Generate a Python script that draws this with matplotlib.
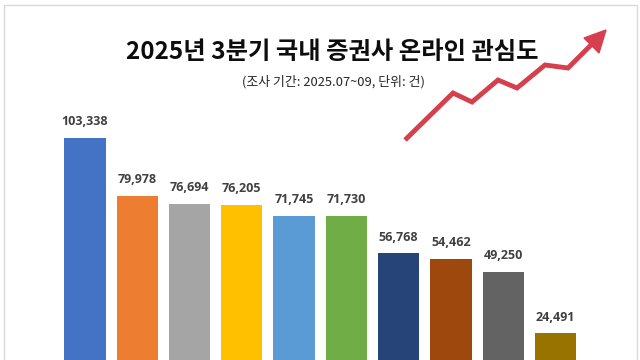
import matplotlib
matplotlib.use("Agg")
import matplotlib.pyplot as plt
from matplotlib.patches import Rectangle, Polygon
from matplotlib.lines import Line2D

plt.rcParams['font.family'] = ['Noto Sans CJK KR', 'DejaVu Sans']

categories = ["1위", "2위", "3위", "4위", "5위", "6위", "7위", "8위", "9위", "10위"]
values = [103338, 79978, 76694, 76205, 71745, 71730, 56768, 54462, 49250, 24491]
colors = ["#4472C4", "#ED7D31", "#A5A5A5", "#FFC000", "#5B9BD5",
          "#70AD47", "#264478", "#9E480E", "#636363", "#997300"]
title = "2025년 3분기 국내 증권사 온라인 관심도"
subtitle = "(조사 기간: 2025.07~09, 단위: 건)"

W, H = 640, 360
fig = plt.figure(figsize=(6.4, 3.6), dpi=100)
fig.patch.set_facecolor("white")

# chart-area border
fig.patches.append(Rectangle((4 / W, -0.2), 633 / W, (H - 5) / H + 0.2,
                             transform=fig.transFigure, fill=False,
                             edgecolor="#d9d9d9", lw=1.0, zorder=0))

ax = fig.add_axes([58.85 / W, -34.1 / H, 522.75 / W, 394.1 / H])
x = list(range(len(values)))
ax.bar(x, values, width=0.79, color=colors, zorder=2)
ax.set_xlim(-0.5, len(values) - 0.5)
ax.set_ylim(0, 394.1 / 2.481 * 1000)
ax.axis("off")

for xi, v in zip(x, values):
    ax.annotate(f"{v:,}", (xi, v), xytext=(0, 7), textcoords="offset points",
                ha="center", va="bottom", fontsize=9, fontweight="bold",
                color="#404040", family=["Open Sans", "DejaVu Sans"])

fig.text(332 / W, 1 - 52 / H, title, ha="center", va="center",
         fontsize=17.5, fontweight="bold", color="#0d0d0d")
fig.text(333 / W, 1 - 82 / H, subtitle, ha="center", va="center",
         fontsize=9.3, color="#262626")

# decorative red zigzag arrow
pts = [(405, 140), (453, 93), (472, 102), (498, 80), (517, 88),
       (545, 65), (568, 68), (594, 42)]
xs = [p[0] / W for p in pts]
ys = [1 - p[1] / H for p in pts]
fig.lines.append(Line2D(xs, ys, transform=fig.transFigure, color="#D6404E",
                        lw=3.5, solid_joinstyle="miter", solid_capstyle="butt"))
head = [(606, 30), (584, 38), (599, 53)]
fig.patches.append(Polygon([(p[0] / W, 1 - p[1] / H) for p in head], closed=True,
                           transform=fig.transFigure, color="#D6404E"))

fig.savefig("out.png", dpi=100)
